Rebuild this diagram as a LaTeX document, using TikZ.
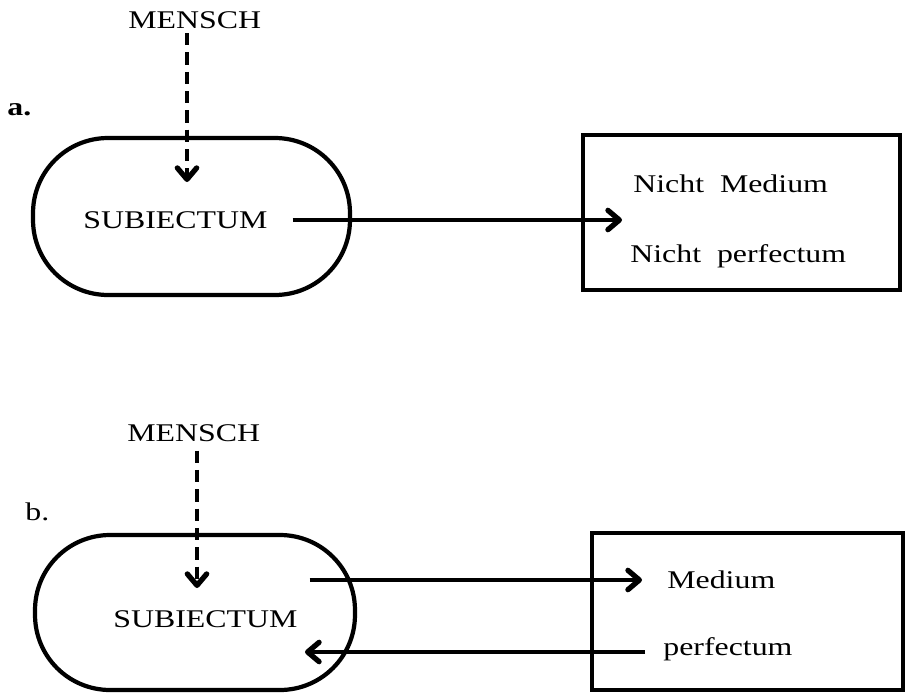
\documentclass[tikz,border=0pt]{standalone}
\usepackage{fontspec}
\setmainfont{Liberation Serif}[FakeStretch=1.25]
\usetikzlibrary{arrows.meta}

\begin{document}
\begin{tikzpicture}[x=0.02cm, y=-0.02cm, font=\fontsize{14.5}{17}\selectfont,
        >={Straight Barb[length=6.5pt,width=11pt,line width=3pt,round]}]
        \useasboundingbox (0,0) rectangle (907,694);

        % texts, set on their base lines
        \begin{scope}[every node/.style={anchor=base west, inner sep=0}]
                \node (labA) at (7,115) {\textbf{a.}};
                \node (menschA) at (128,28.5) {MENSCH};
                \node (subA) at (83,228) {SUBIECTUM};
                \node (nmedA) at (633,192) {Nicht\ \ Medium};
                \node (nperfA) at (630,262) {Nicht\ \ perfectum};

                \node (labB) at (25,520) {b.};
                \node (menschB) at (127,441) {MENSCH};
                \node (subB) at (113,627) {SUBIECTUM};
                \node (medB) at (667,588) {Medium};
                \node (perfB) at (663,655) {perfectum};
        \end{scope}

        % the two subjects and the two boxes
        \begin{scope}[every node/.style={draw, line width=2.4pt, inner sep=0}]
                \node [rounded corners=1.5cm, minimum width=6.34cm, minimum height=3.14cm] (ovalA) at (191.5,216.5) {};
                \node [minimum width=6.34cm, minimum height=3.1cm] (boxA) at (741.5,212.5) {};
                \node [rounded corners=1.5cm, minimum width=6.4cm, minimum height=3.1cm] (ovalB) at (195,612.5) {};
                \node [minimum width=6.22cm, minimum height=3.14cm] (boxB) at (747.5,611.5) {};
        \end{scope}

        \coordinate (inA) at (187,182);
        \coordinate (goA) at (622,220);
        \coordinate (inB) at (197,588);
        \coordinate (goB) at (642,580);
        \coordinate (backB) at (645,652);
        \coordinate (retB) at (305,652);

        \begin{scope}[every path/.style={line width=1.9pt}]
                \draw [->, line width=2.3pt, dash pattern=on 7pt off 4pt] (menschA.south -| inA) ++(0,4) -- (inA);
                \draw [->] (subA.east |- goA) ++(25,0) -- (goA);

                \draw [->, line width=2.3pt, dash pattern=on 7pt off 4pt] (menschB.south -| inB) ++(0,9) -- (inB);
                \draw [->] (subB.east |- goB) ++(12,0) -- (goB);
                \draw [->] (backB) -- (retB);
        \end{scope}
\end{tikzpicture}
\end{document}
